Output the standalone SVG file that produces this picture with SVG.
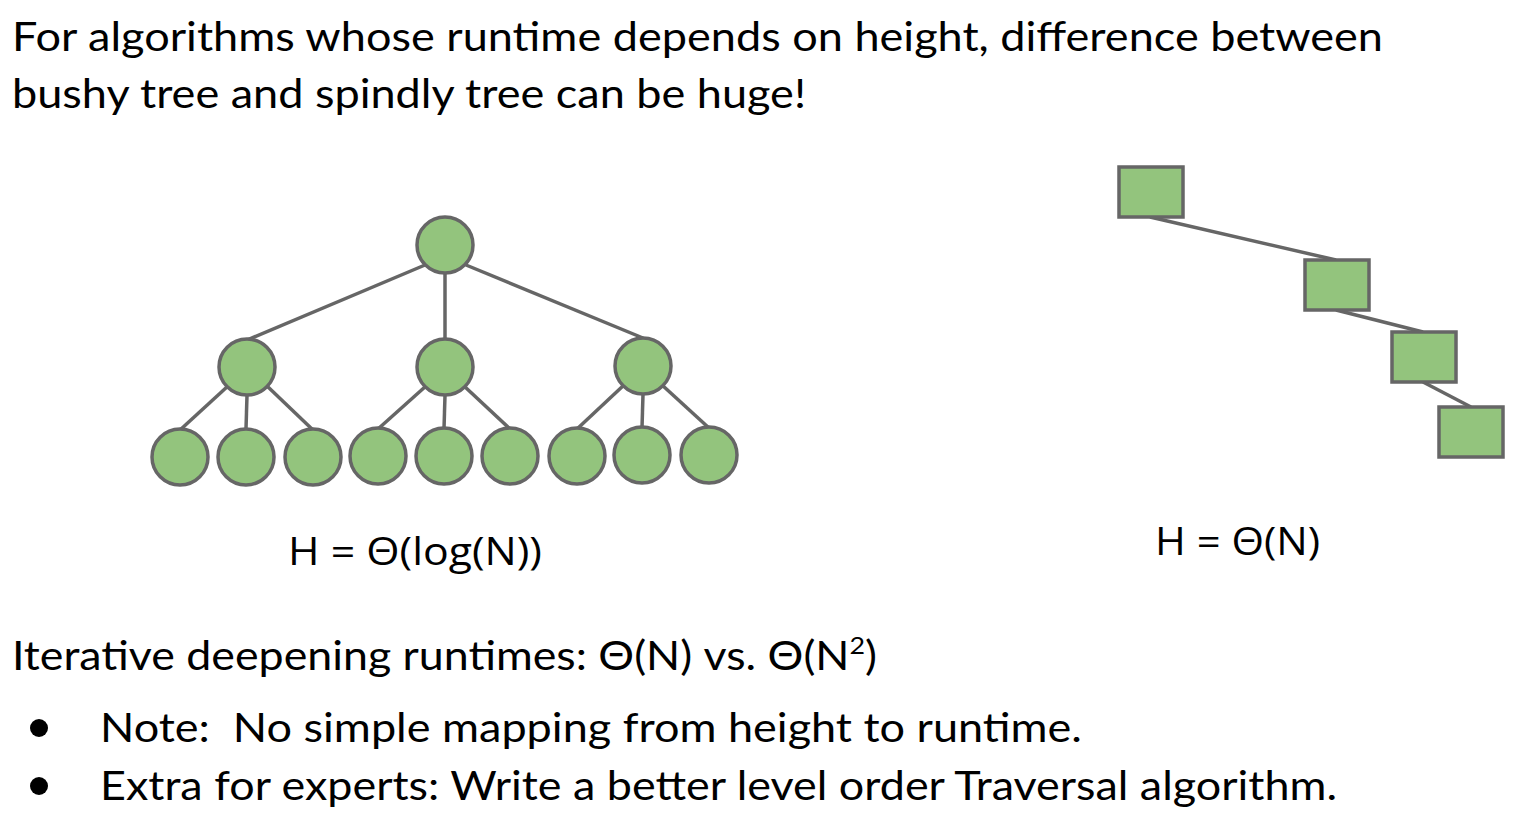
<svg xmlns="http://www.w3.org/2000/svg" width="1517" height="816" viewBox="0 0 1517 816">
<style>
.t{font-family:Lato,"Open Sans","Liberation Sans",sans-serif;font-size:40px;fill:#000}
.h{font-family:"Open Sans","Liberation Sans",sans-serif;font-size:38px;fill:#000}
.n{fill:#93c47d;stroke:#666666;stroke-width:3.5}
.e{stroke:#666666;stroke-width:3.5;fill:none}
</style>
<rect width="1517" height="816" fill="#fff"/>
<text class="t" x="12" y="51" textLength="1371" lengthAdjust="spacingAndGlyphs">For algorithms whose runtime depends on height, difference between</text>
<text class="t" x="12" y="108" textLength="794" lengthAdjust="spacingAndGlyphs">bushy tree and spindly tree can be huge!</text>
<g id="edges">
<line class="e" x1="425" y1="265" x2="247" y2="340"/>
<line class="e" x1="445" y1="273" x2="445" y2="339"/>
<line class="e" x1="466" y1="265" x2="643" y2="338"/>
<line class="e" x1="228" y1="386" x2="180" y2="430"/>
<line class="e" x1="247" y1="395" x2="246" y2="429"/>
<line class="e" x1="267" y1="386" x2="313" y2="430"/>
<line class="e" x1="426" y1="386" x2="378" y2="429"/>
<line class="e" x1="445" y1="395" x2="444" y2="429"/>
<line class="e" x1="464" y1="386" x2="510" y2="429"/>
<line class="e" x1="624" y1="385" x2="577" y2="429"/>
<line class="e" x1="643" y1="394" x2="642" y2="428"/>
<line class="e" x1="662" y1="385" x2="709" y2="428"/>
<line class="e" x1="1150" y1="217" x2="1336" y2="260"/>
<line class="e" x1="1336" y1="310" x2="1423" y2="332"/>
<line class="e" x1="1423" y1="382" x2="1471" y2="407"/>
</g>
<g id="root"><ellipse class="n" cx="445" cy="245" rx="28" ry="28"/></g>
<g id="c1"><ellipse class="n" cx="247" cy="367" rx="28" ry="28"/></g>
<g id="c2"><ellipse class="n" cx="445" cy="367" rx="28" ry="28"/></g>
<g id="c3"><ellipse class="n" cx="643" cy="366" rx="28" ry="28"/></g>
<g id="l1"><ellipse class="n" cx="180" cy="457" rx="28" ry="28"/></g>
<g id="l2"><ellipse class="n" cx="246" cy="457" rx="28" ry="28"/></g>
<g id="l3"><ellipse class="n" cx="313" cy="457" rx="28" ry="28"/></g>
<g id="l4"><ellipse class="n" cx="378" cy="456" rx="28" ry="28"/></g>
<g id="l5"><ellipse class="n" cx="444" cy="456" rx="28" ry="28"/></g>
<g id="l6"><ellipse class="n" cx="510" cy="456" rx="28" ry="28"/></g>
<g id="l7"><ellipse class="n" cx="577" cy="456" rx="28" ry="28"/></g>
<g id="l8"><ellipse class="n" cx="642" cy="455" rx="28" ry="28"/></g>
<g id="l9"><ellipse class="n" cx="709" cy="455" rx="28" ry="28"/></g>
<g id="s1"><rect class="n" x="1119" y="167" width="64" height="50"/></g>
<g id="s2"><rect class="n" x="1305" y="260" width="64" height="50"/></g>
<g id="s3"><rect class="n" x="1392" y="332" width="64" height="50"/></g>
<g id="s4"><rect class="n" x="1439" y="407" width="64" height="50"/></g>
<text class="h" x="288" y="565" textLength="254" lengthAdjust="spacingAndGlyphs">H = Θ(log(N))</text>
<text class="h" x="1155" y="555" textLength="165" lengthAdjust="spacingAndGlyphs">H = Θ(N)</text>
<text class="t" x="12" y="670" textLength="865" lengthAdjust="spacingAndGlyphs">Iterative deepening runtimes: Θ(N) vs. Θ(N<tspan dy="-16" font-size="24">2</tspan><tspan dy="16">)</tspan></text>
<circle cx="39" cy="728" r="9" fill="#000"/>
<circle cx="39" cy="786" r="9" fill="#000"/>
<text class="t" x="100" y="742" textLength="982" lengthAdjust="spacingAndGlyphs">Note:&#160; No simple mapping from height to runtime.</text>
<text class="t" x="100" y="800" textLength="1237" lengthAdjust="spacingAndGlyphs">Extra for experts: Write a better level order Traversal algorithm.</text>
</svg>
